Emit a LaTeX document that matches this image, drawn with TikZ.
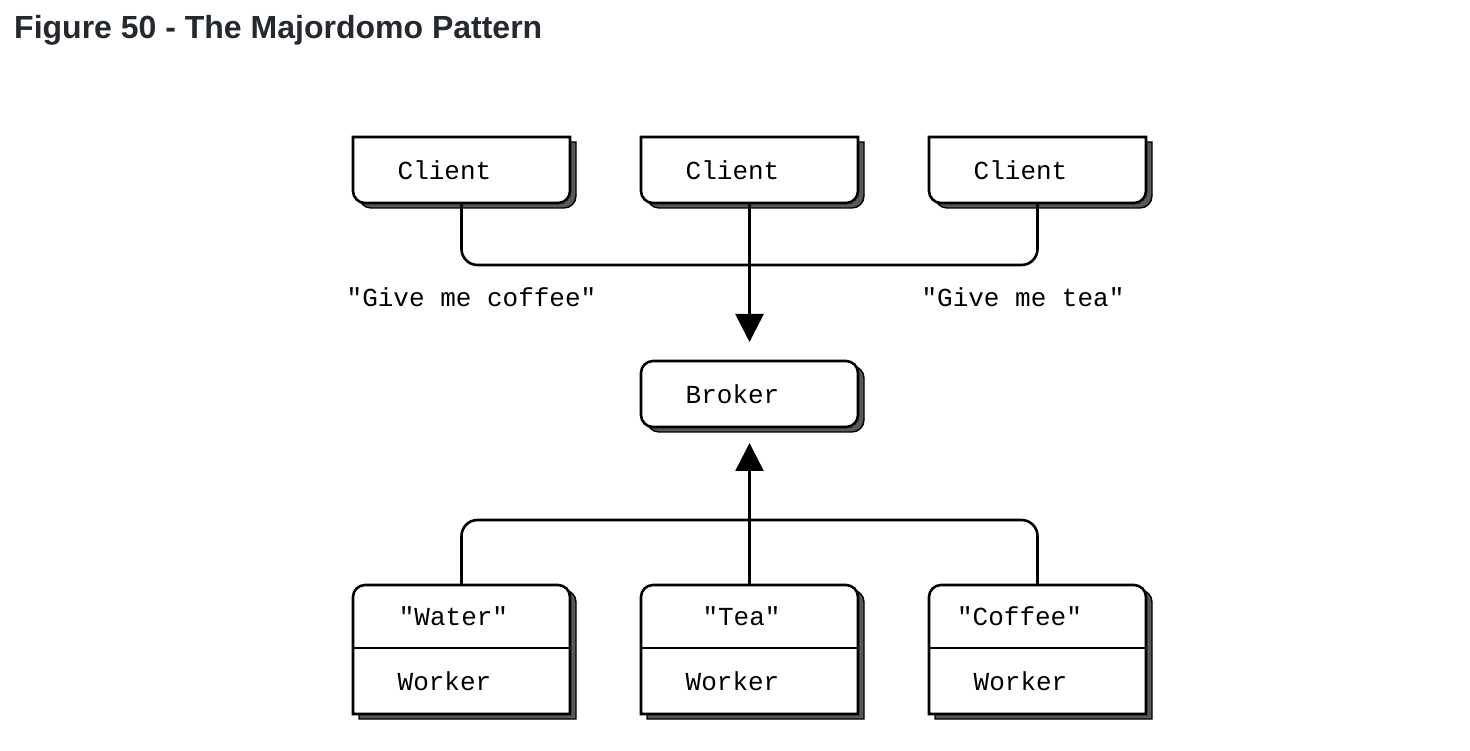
\documentclass[tikz,border=0pt]{standalone}
\usepackage{fontspec}
\setmainfont{Liberation Sans}
\newfontfamily\boxfont{Liberation Mono}
\usepackage{tikz}
\usetikzlibrary{positioning}
\usetikzlibrary{arrows.meta}
\usetikzlibrary{backgrounds}

\definecolor{titlegray}{HTML}{24292F}

\newcommand{\clientoutline}[1]{(#1.north west) -- (#1.north east)
  -- ([yshift=12pt]#1.south east) arc[start angle=0, end angle=-90, radius=12pt]
  -- ([xshift=12pt]#1.south west) arc[start angle=270, end angle=180, radius=12pt] -- cycle}
\newcommand{\workeroutline}[2]{(#2.south west)
  -- ([yshift=-12pt]#1.north west) arc[start angle=180, end angle=90, radius=12pt]
  -- ([xshift=-12pt]#1.north east) arc[start angle=90, end angle=0, radius=12pt]
  -- (#2.south east) -- cycle}

\begin{document}
\begin{tikzpicture}[x=1pt, y=1pt,
    plainbox/.style={minimum width=217pt, inner sep=0pt, outer sep=0pt,
      font=\boxfont\fontsize{26}{30}\selectfont},
    box/.style={plainbox, minimum height=66pt, execute at begin node={\kern-34pt}},
    topic/.style={plainbox, minimum height=63pt, execute at begin node={\kern-16pt}},
    outline/.style={draw=black, fill=white, line width=2.6pt},
    shade/.style={draw=black, fill=black!65, line width=1.4pt,
      transform canvas={shift={(6pt,-5pt)}}},
    wire/.style={draw=black, line width=2.6pt},
    arrowhead/.style={-{Triangle[width=28pt,length=28pt]}},
    note/.style={inner sep=0pt, font=\boxfont\fontsize{26}{30}\selectfont}
  ]
  \useasboundingbox (0,0) rectangle (1470,750);

  \node[anchor=base west, inner sep=0pt, text=titlegray,
    font=\bfseries\fontsize{32}{38}\selectfont] (title) at (14,711)
    {Figure 50 - The Majordomo Pattern};

  % nodes
  \node[box] (broker) at (749.5,356) {Broker};
  \node[box, above=158pt of broker] (client2) {Client};
  \node[box, left=71pt of client2] (client1) {Client};
  \node[box, right=71pt of client2] (client3) {Client};
  \node[topic, below=158pt of broker] (tea) {"Tea"};
  \node[topic, left=71pt of tea] (water) {"Water"};
  \node[topic, right=71pt of tea, execute at begin node={\kern-20pt}] (coffee) {"Coffee"};
  \node[box, below=0pt of water] (worker1) {Worker};
  \node[box, below=0pt of tea] (worker2) {Worker};
  \node[box, below=0pt of coffee] (worker3) {Worker};

  % outlines behind the texts, shadow first
  \begin{scope}[on background layer]
    \foreach \n in {client1,client2,client3}{
      \path[shade] \clientoutline{\n};
      \path[outline] \clientoutline{\n};
    }
    \path[shade, rounded corners=12pt] (broker.north west) rectangle (broker.south east);
    \path[outline, rounded corners=12pt] (broker.north west) rectangle (broker.south east);
    \foreach \t/\w in {water/worker1,tea/worker2,coffee/worker3}{
      \path[shade] \workeroutline{\t}{\w};
      \path[outline] \workeroutline{\t}{\w};
      \draw[wire] (\t.south west) -- (\t.south east);
    }
  \end{scope}

  % connectors
  \coordinate (request) at ([yshift=-62pt]client2.south);
  \coordinate (reply) at ([yshift=65pt]tea.north);
  \draw[wire, rounded corners=16pt] (client1.south) |- (request) -| (client3.south);
  \draw[wire, arrowhead, shorten >=19pt] (client2.south) -- (broker.north);
  \draw[wire, rounded corners=16pt] (water.north) |- (reply) -| (coffee.north);
  \draw[wire, arrowhead, shorten >=16pt] (tea.north) -- (broker.south);

  \node[note] (askcoffee) at ([xshift=10pt, yshift=-94pt]client1.south) {"Give me coffee"};
  \node[note] (asktea) at ([xshift=-14.5pt, yshift=-94pt]client3.south) {"Give me tea"};
\end{tikzpicture}
\end{document}
